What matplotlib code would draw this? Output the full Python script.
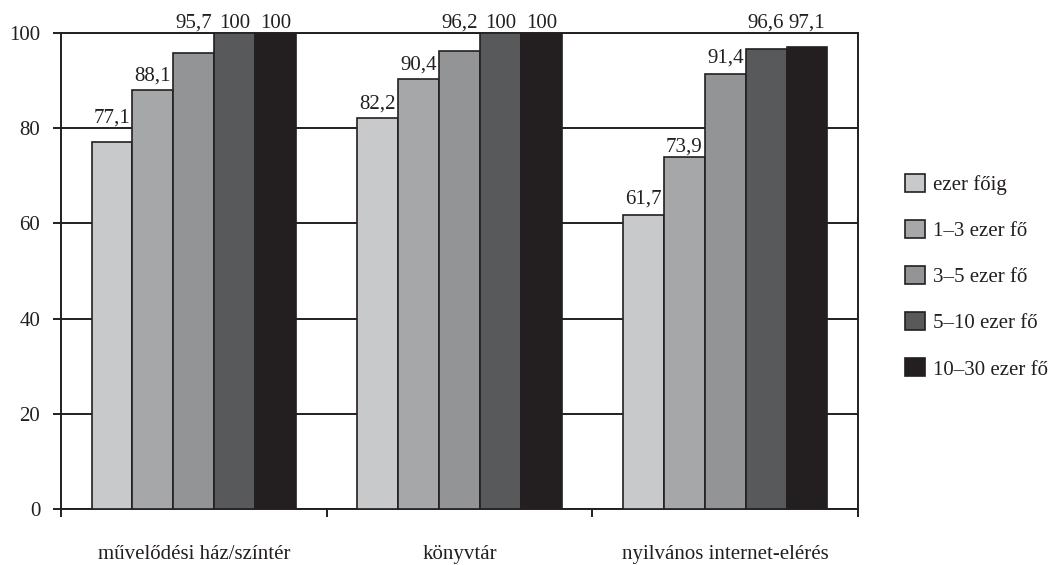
import numpy as np
import matplotlib
matplotlib.use("Agg")
import matplotlib.pyplot as plt

plt.rcParams['font.family'] = ['Liberation Serif', 'DejaVu Serif']

# data
categories = ['művelődési ház/színtér', 'könyvtár', 'nyilvános internet-elérés']
series_names = ['ezer főig', '1–3 ezer fő', '3–5 ezer fő', '5–10 ezer fő', '10–30 ezer fő']
values = [
    [77.1, 82.2, 61.7],
    [88.1, 90.4, 73.9],
    [95.7, 96.2, 91.4],
    [100, 100, 96.6],
    [100, 100, 97.1],
]
# where the value labels sit (baseline, in axis units), as placed in the original
label_y = [
    [81.1, 84.2, 64.1],
    [90.1, 92.4, 75.2],
    [101.1, 101.1, 93.7],
    [101.1, 101.1, 101.1],
    [101.1, 101.1, 101.1],
]
colors = ['#c8c9cb', '#a6a7a9', '#939496', '#58595b', '#231f20']
FS = 15


def value_label(v):
    return f"{v:g}".replace('.', ',')


fig = plt.figure(figsize=(10.61, 5.65), dpi=100)
ax = fig.add_axes([0.0575, 0.0991, 0.7512, 0.8425])

centers = np.arange(len(categories)) + 0.5
width = 0.154
n = len(series_names)

for i, (name, vals) in enumerate(zip(series_names, values)):
    xs = centers + (i - (n - 1) / 2) * width
    bars = ax.bar(xs, vals, width, color=colors[i], edgecolor='#231f20',
                  linewidth=1.2, label=name, zorder=3)
    for b, v, ly in zip(bars, vals, label_y[i]):
        ax.text(b.get_x() + b.get_width() / 2, ly, value_label(v),
                ha='center', va='baseline', fontsize=FS, color='#231f20',
                clip_on=False, zorder=4)

ax.set_xlim(0, 3)
ax.set_ylim(0, 100)
ax.set_yticks([0, 20, 40, 60, 80, 100])
ax.yaxis.grid(True, color='#231f20', linewidth=1.4, zorder=0)
ax.set_axisbelow(True)

# major x ticks at category borders, labels on minor ticks
ax.set_xticks([0, 1, 2, 3])
ax.set_xticklabels([])
ax.set_xticks(centers, minor=True)
ax.set_xticklabels(categories, minor=True, fontsize=FS, color='#231f20')
ax.tick_params(axis='x', which='major', direction='out', length=6, width=1.4, color='#231f20')
ax.tick_params(axis='x', which='minor', length=0, pad=26)
ax.tick_params(axis='y', direction='out', length=6, width=1.4, color='#231f20',
               labelsize=FS, labelcolor='#231f20', pad=9)

for sp in ax.spines.values():
    sp.set_color('#231f20')
    sp.set_linewidth(1.4)

leg = fig.legend(loc='upper left', bbox_to_anchor=(0.845, 0.707), frameon=False,
                 fontsize=FS, handlelength=0.95, handleheight=0.95, handletextpad=0.38,
                 labelspacing=1.2, borderaxespad=0)
for t in leg.get_texts():
    t.set_color('#231f20')

plt.savefig('out.png', dpi=100)
